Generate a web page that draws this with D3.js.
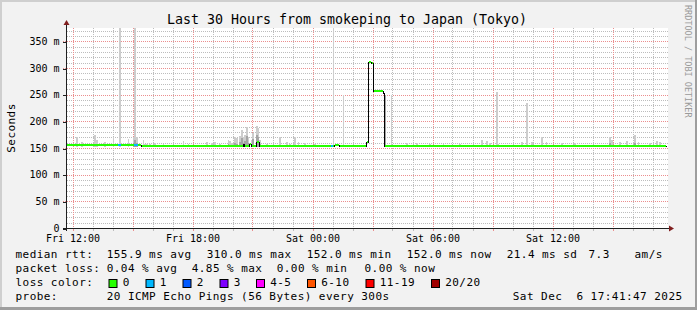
<!DOCTYPE html>
<html><head><meta charset="utf-8">
<script src="https://cdn.jsdelivr.net/npm/d3@7"></script>
<style>
html,body{margin:0;padding:0;background:#f2f2f2;}
svg{display:block;}
text{font-family:"DejaVu Sans Mono",monospace;}
</style></head><body>
<svg id="c" width="697" height="310"></svg>
<script>
// ---------------- data ----------------
const titleText = "Last 30 Hours from smokeping to Japan (Tokyo)";
const yLabel = "Seconds";
const watermark = "RRDTOOL / TOBI OETIKER";
const yTicks = [0, 50, 100, 150, 200, 250, 300, 350];
const yTickLabels = ["0", "50 m", "100 m", "150 m", "200 m", "250 m", "300 m", "350 m"];
const xTickTimes = ["Fri 12:00", "Fri 18:00", "Sat 00:00", "Sat 06:00", "Sat 12:00"];
const xTickLabels = ["Fri 12:00", "Fri 18:00", "Sat 00:00", "Sat 06:00", "Sat 12:00"];
// grid: minor every 10 ms / 1 h, major every 50 ms / 3 h
const yGridMinor = [10,20,30,40,60,70,80,90,110,120,130,140,160,170,180,190,210,220,230,240,260,270,280,290,310,320,330,340,360,370];
const yGridMajor = [50,100,150,200,250,300,350];
const xGridMajor = ["Fri 12:00","Fri 15:00","Fri 18:00","Fri 21:00","Sat 00:00","Sat 03:00","Sat 06:00","Sat 09:00","Sat 12:00","Sat 15:00"];

// median rtt (ms) as step changes: value holds until the next time
const medianTimes  = ["Fri 11:40","Fri 15:25","Fri 20:30","Fri 20:35","Fri 20:50","Fri 20:55","Fri 21:10","Fri 21:20","Sat 01:05","Sat 01:20","Sat 02:40","Sat 02:45","Sat 02:55","Sat 03:00","Sat 03:30","Sat 03:35","Sat 17:40"];
const medianValues = [154, 152, 156, 152, 155, 152, 160, 152, 154, 152, 160, 310, 307, 255, 251, 152, 152];

// samples with packet loss (pings lost out of 20)
const lossTimes  = ["Fri 14:15", "Fri 14:20", "Fri 15:05", "Fri 15:10", "Sat 00:55"];
const lossCounts = [1, 1, 1, 1, 1];

// smoke (ping spread) per 5-minute sample: low, dense part, max
const smokeTimes = ["Fri 12:10","Fri 12:25","Fri 13:05","Fri 13:10","Fri 13:35","Fri 14:00","Fri 14:20","Fri 14:45","Fri 15:00","Fri 15:05","Fri 15:10","Fri 15:30","Fri 15:35","Fri 15:40","Fri 15:50","Fri 16:05","Fri 16:30","Fri 17:30","Fri 17:45","Fri 18:40","Fri 18:55","Fri 19:05","Fri 19:20","Fri 19:45","Fri 19:50","Fri 19:55","Fri 20:05","Fri 20:10","Fri 20:20","Fri 20:25","Fri 20:30","Fri 20:35","Fri 20:40","Fri 20:45","Fri 20:55","Fri 21:00","Fri 21:10","Fri 21:15","Fri 21:20","Fri 21:40","Fri 22:20","Fri 22:40","Fri 22:50","Fri 23:05","Fri 23:15","Fri 23:35","Sat 00:05","Sat 01:00","Sat 01:30","Sat 03:00","Sat 03:35","Sat 03:55","Sat 04:40","Sat 05:10","Sat 05:50","Sat 06:30","Sat 07:20","Sat 08:25","Sat 08:40","Sat 08:50","Sat 09:10","Sat 09:15","Sat 10:25","Sat 10:40","Sat 10:55","Sat 11:25","Sat 11:40","Sat 12:25","Sat 13:05","Sat 14:50","Sat 14:55","Sat 15:20","Sat 15:40","Sat 16:05","Sat 16:15","Sat 16:50","Sat 17:10","Sat 17:20"];
const smokeLo  = [152,152,152,152,152,152,152,152,152,152,152,152,152,152,152,152,152,152,152,152,152,152,152,152,152,152,152,152,152,152,152,152,152,152,152,152,152,152,152,152,152,152,152,152,152,152,152,152,152,255,152,152,152,152,152,152,152,152,152,152,152,152,152,152,152,152,152,152,152,152,152,152,152,152,152,152,152,152];
const smokeMid = [null,null,null,null,null,null,null,null,160,165,160,null,null,null,null,null,null,null,null,null,null,null,null,158,null,null,160,158,162,168,160,163,172,160,158,166,175,170,158,null,null,null,null,null,null,null,null,null,null,308,249,null,null,null,null,null,null,null,null,null,null,null,null,null,null,null,null,null,null,160,null,null,null,160,null,null,null,null];
const smokeHi  = [170,162,174,165,161,171,400,166,171,400,171,165,158,157,158,160,158,164,158,162,160,162,158,165,163,160,171,168,172,184,170,175,190,170,165,178,191,188,165,158,171,162,158,170,162,160,157,400,249,308,249,249,160,160,157,157,158,165,163,160,255,158,162,235,162,170,162,160,160,171,165,162,164,174,162,160,163,161];

const statRtt  = ["155.9 ms avg", "310.0 ms max", "152.0 ms min", "152.0 ms now", "21.4 ms sd", "7.3", "am/s"];
const statLoss = ["0.04 % avg", "4.85 % max", "0.00 % min", "0.00 % now"];
const lossLabels = ["0", "1", "2", "3", "4-5", "6-10", "11-19", "20/20"];
const lossColors = ["#26ff00", "#00b8ff", "#0059ff", "#7e00ff", "#ff00ff", "#ff5500", "#ff0000", "#a10000"];
const probeText = "20 ICMP Echo Pings (56 Bytes) every 300s";
const stampText = "Sat Dec  6 17:41:47 2025";

// ---------------- drawing ----------------
const parseT = s => {
  const [d, hm] = s.split(" ");
  const [h, m] = hm.split(":").map(Number);
  return new Date(2025, 11, d === "Fri" ? 5 : 6, h, m);
};
const STEP = 5 * 60 * 1000;
const svg = d3.select("#c");
const W = 697, H = 310;
const L = 67, R = 667, T = 28, B = 228;

const x = d3.scaleTime()
  .domain([new Date(2025, 11, 5, 11, 43, 30), new Date(2025, 11, 6, 17, 43, 30)])
  .range([L, R]);
const y = d3.scaleLinear().domain([0, 375]).range([B, T]);

const GRID = "#bdbdbd", MGRID = "#eb8e8e";

// background + frame
svg.append("rect").attr("width", W).attr("height", H).attr("fill", "#f2f2f2");
svg.append("rect").attr("x", 0).attr("y", 0).attr("width", W).attr("height", 2).attr("fill", "#cfcfcf");
svg.append("rect").attr("x", 0).attr("y", 0).attr("width", 2).attr("height", H).attr("fill", "#cfcfcf");
svg.append("rect").attr("x", W - 2).attr("y", 0).attr("width", 2).attr("height", H).attr("fill", "#9e9e9e");
svg.append("rect").attr("x", 0).attr("y", H - 3).attr("width", W).attr("height", 3).attr("fill", "#9e9e9e");

// canvas
svg.append("rect").attr("x", L).attr("y", T).attr("width", R - L + 1).attr("height", B - T).attr("fill", "#ffffff");

// dotted grid built from 1px squares
const dotsH = (yy, x0, x1) => { let d = ""; for (let xx = x0; xx < x1; xx += 2) d += `M${xx},${yy}h1v1h-1z`; return d; };
const dotsV = (xx, y0, y1) => { let d = ""; for (let yy = y0; yy < y1; yy += 2) d += `M${xx},${yy}h1v1h-1z`; return d; };
const gMin = svg.append("g").attr("shape-rendering", "crispEdges").attr("fill", GRID);
const gMaj = svg.append("g").attr("shape-rendering", "crispEdges").attr("fill", MGRID);
const majorSet = new Set(xGridMajor.map(s => +parseT(s)));
const hours = d3.timeHour.range(x.domain()[0], x.domain()[1]);
yGridMinor.forEach(v => gMin.append("path").attr("d", dotsH(Math.round(y(v)), L, R + 1)));
hours.filter(h => !majorSet.has(+h)).forEach(h => {
  const xp = Math.round(x(h));
  gMin.append("path").attr("d", dotsV(xp, T, B));
  gMin.append("rect").attr("x", xp).attr("width", 1).attr("y", B + 1).attr("height", 2);
});
yGridMajor.forEach(v => gMaj.append("path").attr("d", dotsH(Math.round(y(v)), 63, R + 1)));
xGridMajor.map(parseT).forEach(h => {
  const xp = Math.round(x(h));
  gMaj.append("path").attr("d", dotsV(xp, T, B));
  gMaj.append("rect").attr("x", xp).attr("width", 1).attr("y", B + 1).attr("height", 2);
});

// plot clip
svg.append("clipPath").attr("id", "clip").append("rect")
  .attr("x", L).attr("y", T).attr("width", R - L + 1).attr("height", B - T);
const plot = svg.append("g").attr("clip-path", "url(#clip)").attr("shape-rendering", "crispEdges");

// smoke
const smoke = smokeTimes.map((t, i) => ({ t: parseT(t), lo: smokeLo[i], mid: smokeMid[i], hi: smokeHi[i] }));
const sx = d => Math.round(x(d.t));
const sw = d => Math.max(1, Math.round(x(new Date(+d.t + STEP))) - Math.round(x(d.t)));
plot.selectAll("rect.hi").data(smoke).join("rect").attr("class", "hi")
  .attr("x", sx).attr("width", sw)
  .attr("y", d => Math.max(T, Math.round(y(d.hi))))
  .attr("height", d => Math.round(y(d.lo)) - Math.max(T, Math.round(y(d.hi))))
  .attr("fill", "#cdcdcd");
plot.selectAll("rect.mid").data(smoke.filter(d => d.mid != null)).join("rect").attr("class", "mid")
  .attr("x", sx).attr("width", sw)
  .attr("y", d => Math.round(y(d.mid)))
  .attr("height", d => Math.round(y(d.lo)) - Math.round(y(d.mid)))
  .attr("fill", "#a4a4a4");

// median: thin dark step line
const med = medianTimes.map((t, i) => ({ t: parseT(t), v: medianValues[i] }));
const ym = v => Math.round(y(v)) - 1;
plot.append("path").datum(med)
  .attr("d", d3.line().x(d => Math.round(x(d.t)) + 0.5).y(d => ym(d.v) + 0.5).curve(d3.curveStepAfter))
  .attr("fill", "none").attr("stroke", "#000").attr("stroke-width", 1);
// loss-coloured band
const segs = med.slice(0, -1).map((d, i) => ({ t0: d.t, t1: med[i + 1].t, v: d.v }));
plot.selectAll("rect.band").data(segs).join("rect").attr("class", "band")
  .attr("x", d => Math.round(x(d.t0)) + 1)
  .attr("width", d => Math.max(0, Math.round(x(d.t1)) - Math.round(x(d.t0)) - 1))
  .attr("y", d => ym(d.v) - 1).attr("height", 2)
  .attr("fill", lossColors[0]);
const bucket = n => n === 0 ? 0 : n === 1 ? 1 : n === 2 ? 2 : n === 3 ? 3 : n <= 5 ? 4 : n <= 10 ? 5 : n <= 19 ? 6 : 7;
const medAt = t => { let v = medianValues[0]; med.forEach(d => { if (d.t <= t) v = d.v; }); return v; };
const losses = lossTimes.map((t, i) => ({ t: parseT(t), n: lossCounts[i] }));
plot.selectAll("rect.loss").data(losses).join("rect").attr("class", "loss")
  .attr("x", d => Math.round(x(d.t)))
  .attr("width", d => Math.max(1, Math.round(x(new Date(+d.t + STEP))) - Math.round(x(d.t))))
  .attr("y", d => ym(medAt(d.t)) - 1).attr("height", 2)
  .attr("fill", d => lossColors[bucket(d.n)]);

// axes
const axisCol = "#1f1f1f";
const yAxis = svg.append("g").attr("transform", `translate(${L},0)`)
  .call(d3.axisLeft(y).tickValues(yTicks).tickFormat((d, i) => yTickLabels[i]).tickSize(4).tickPadding(3.5));
yAxis.select(".domain").remove();
yAxis.selectAll("line").attr("stroke", axisCol).attr("shape-rendering", "crispEdges")
  .attr("transform", "translate(0,0.5)");
yAxis.selectAll("text").attr("font-family", "DejaVu Sans Mono").attr("font-size", 10).attr("fill", "#000");

const xAxis = svg.append("g").attr("transform", `translate(0,${B})`)
  .call(d3.axisBottom(x).tickValues(xTickTimes.map(parseT)).tickFormat((d, i) => xTickLabels[i]).tickSize(0).tickPadding(6.5));
xAxis.select(".domain").remove();
xAxis.selectAll("text").attr("font-family", "DejaVu Sans Mono").attr("font-size", 10).attr("fill", "#000");

// axis lines and arrows
svg.append("line").attr("x1", L - 0.5).attr("x2", L - 0.5).attr("y1", B + 3).attr("y2", 24)
  .attr("stroke", axisCol).attr("shape-rendering", "crispEdges");
svg.append("line").attr("x1", L - 4).attr("x2", R + 3).attr("y1", B + 0.5).attr("y2", B + 0.5)
  .attr("stroke", axisCol).attr("shape-rendering", "crispEdges");
svg.append("path").attr("d", `M${L - 3.5},${25} L${L + 2.5},${25} L${L - 0.5},${20} Z`).attr("fill", "#801f1f");
svg.append("path").attr("d", `M${R + 2},${B - 2.5} L${R + 2},${B + 3.5} L${R + 7},${B + 0.5} Z`).attr("fill", "#801f1f");

// title / labels
svg.append("text").attr("x", 347).attr("y", 24).attr("text-anchor", "middle")
  .attr("font-size", 13.3).attr("fill", "#000").text(titleText);
svg.append("text").attr("transform", "translate(15,128) rotate(-90)").attr("text-anchor", "middle")
  .attr("font-size", 11).attr("letter-spacing", 0.45).attr("fill", "#000").text(yLabel);
svg.append("text").attr("transform", "translate(685,5) rotate(90)")
  .attr("font-size", 8.5).attr("fill", "#9a9a9a").text(watermark);

// legend
const lg = svg.append("g").attr("font-size", 11).attr("letter-spacing", 0.45).attr("fill", "#000");
const put = (tx, px, py) => lg.append("text").attr("x", px).attr("y", py).attr("xml:space", "preserve").text(tx);
const rows = [258, 272, 286, 300];
put("median rtt:", 15.5, rows[0]);
[106.7, 206.7, 306.7, 406.7, 506.7, 588.5, 634.5].forEach((px, i) => put(statRtt[i], px, rows[0]));
put("packet loss:", 15.5, rows[1]);
[106.7, 191.7, 276.7, 364.5].forEach((px, i) => put(statLoss[i], px, rows[1]));
put("loss color:", 15.5, rows[2]);
const boxX = [108.5, 145.5, 182.5, 219.5, 256, 307, 365.5, 431];
lossLabels.forEach((lab, i) => {
  lg.append("rect").attr("x", boxX[i] + 0.5).attr("y", 279.5).attr("width", 8).attr("height", 8)
    .attr("fill", lossColors[i]).attr("stroke", "#000").attr("stroke-width", 1);
  put(lab, boxX[i] + 14.2, rows[2]);
});
put("probe:", 15.5, rows[3]);
put(probeText, 106.7, rows[3]);
put(stampText, 512.8, rows[3]);
</script>
</body></html>
